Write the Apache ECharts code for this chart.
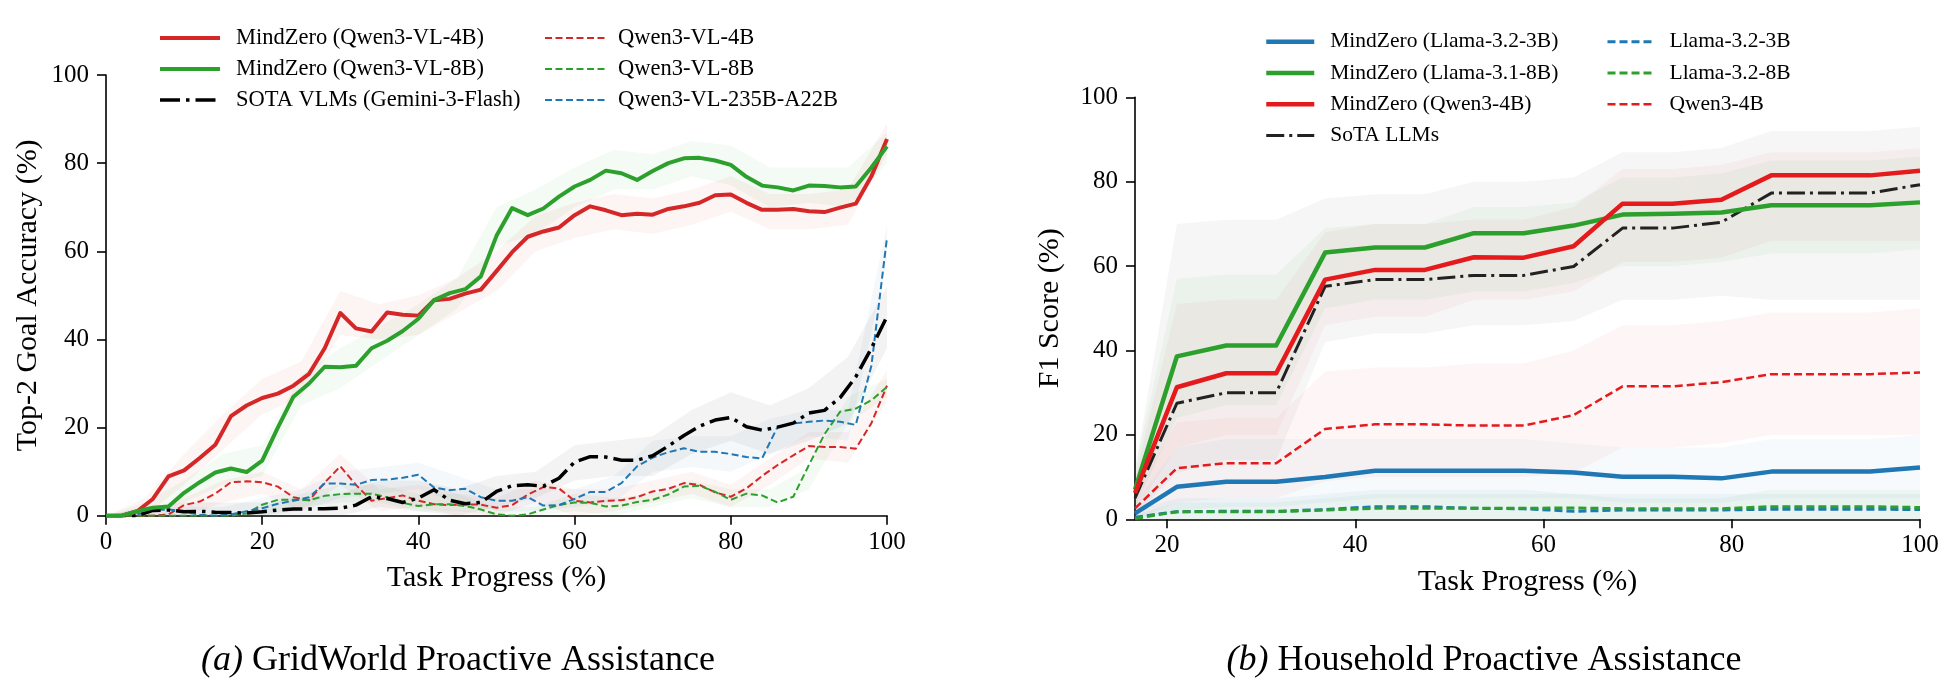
<!DOCTYPE html>
<html>
<head>
<meta charset="utf-8">
<script src="https://cdn.jsdelivr.net/npm/echarts@6/dist/echarts.min.js"></script>
<style>html,body{margin:0;padding:0;background:#fff}#c{width:1949px;height:695px}</style>
</head>
<body>
<div id="c"></div>
<script>
// ---------- (a) GridWorld ----------
const gwX = [0,2,4,6,8,10,12,14,16,18,20,22,24,26,28,30,32,34,36,38,40,42,44,46,48,50,52,54,56,58,60,62,64,66,68,70,72,74,76,78,80,82,84,86,88,90,92,94,96,98,100];
const gwMZ4B = [0,0,1.0,3.8,8.9,10.3,13.1,16.1,22.6,25.0,26.7,27.7,29.5,32.2,38.0,46.0,42.5,41.8,46.1,45.6,45.4,48.9,49.2,50.4,51.3,55.5,59.8,63.3,64.5,65.4,68.2,70.2,69.3,68.2,68.5,68.3,69.6,70.2,71.0,72.7,72.9,71.0,69.4,69.4,69.6,69.1,68.9,69.9,70.8,77.0,85.5];
const gwMZ8B = [0,0,1.0,1.8,2.1,5.2,7.6,9.8,10.7,9.9,12.5,20.0,27.0,30.0,33.8,33.7,34.0,38.0,39.7,41.9,44.7,48.9,50.5,51.4,54.3,63.5,69.8,68.2,69.7,72.4,74.7,76.2,78.3,77.7,76.2,78.2,80.0,81.1,81.2,80.6,79.6,76.9,74.9,74.5,73.8,74.9,74.8,74.5,74.7,79.0,83.8];
const gwSOTA = [0,0,0,1.2,1.3,0.9,1.0,0.8,0.7,0.6,0.9,1.3,1.5,1.5,1.6,1.7,2.4,4.3,3.9,3.0,4.0,5.9,3.5,2.7,3.0,5.5,6.8,7.0,6.7,8.5,12.2,13.4,13.3,12.6,12.6,13.6,15.8,18.2,20.3,21.7,22.3,20.2,19.4,20.1,21.0,23.3,23.9,26.8,31.5,38.0,45.2];
const gwQ4B = [0,0,0,0,0.3,2.4,3.2,5.0,7.6,7.8,7.6,6.6,4.2,3.5,7.5,11.2,7.0,3.4,4.0,4.6,3.4,2.6,2.4,2.6,2.5,1.8,2.4,4.8,6.5,6.2,3.4,3.0,3.4,3.5,4.2,5.5,6.1,7.4,7.0,5.3,4.3,6.2,9.0,11.5,13.7,15.8,15.6,15.6,15.2,21.0,29.5];
const gwQ8B = [0,0,0,0,0,0,0,0,0,0.5,2.5,3.6,3.6,3.5,4.5,4.9,5.0,5.0,4.2,2.9,2.2,2.6,2.6,2.2,1.4,0.3,0,0.3,1.4,2.4,3.0,2.9,2.1,2.3,3.1,3.6,4.8,6.6,6.8,5.4,3.6,5.0,4.6,3.0,4.3,11.5,18.5,23.6,24.3,26.2,29.2];
const gwQ235B = [0,0,0.3,1.3,1.4,1.0,0.2,0,0.3,1.0,1.7,2.7,3.4,4.2,7.3,7.3,7.0,8.1,8.2,8.6,9.3,6.4,5.8,6.1,4.2,3.4,3.4,4.2,2.3,2.4,3.8,5.4,5.4,7.4,11.2,13.2,14.4,15.3,14.5,14.5,14.0,13.3,13.0,20.2,20.9,21.3,21.6,21.3,20.6,34.0,63.1];
// shaded spread (read coarsely)
const gwBandX = [0,5,10,15,20,25,30,35,40,45,50,55,60,65,70,75,80,85,90,95,100];
const gwMZ4BUp = [0,4,14,23,31,35,51,48,50,54,60,68,71,73,72,74,77,73,73,74,89];
const gwMZ4BLo = [0,0,7,15,23,27,41,40,41,46,51,60,63,65,64,66,69,65,65,66,82];
const gwMZ8BUp = [0,3,8,14,16,32,38,43,48,54,70,74,79,83,82,85,84,79,79,79,87];
const gwMZ8BLo = [0,0,3,7,9,25,29,35,41,47,61,64,70,74,74,77,75,70,71,70,80];
const gwSOTAUp = [0,2,3,3,3,4,5,8,8,6,9,10,16,17,18,24,28,25,29,36,52];
const gwSOTALo = [0,0,0,0,0,0,0,2,1,0,2,4,8,9,9,14,17,14,17,21,38];
const gwQ235BUp = [0,2,2,2,4,6,10,11,12,9,6,6,6,9,17,18,18,22,24,24,66];
const gwQ235BLo = [0,0,0,0,0,1,4,5,6,3,1,1,2,3,10,11,10,14,18,17,58];
const gwQ4BUp = [0,1,4,8,10,6,14,6,7,5,4,8,6,6,8,10,7,13,19,19,33];
const gwQ4BLo = [0,0,0,3,5,1,7,1,2,0,0,3,0,1,3,5,2,7,13,12,26];
const gwQ8BUp = [0,0,0,0,2,5,7,7,5,5,2,2,5,4,5,8,6,6,11,27,31];
const gwQ8BLo = [0,0,0,0,0,2,3,3,1,1,0,0,1,0,2,4,2,2,6,21,27];

// ---------- (b) Household ----------
const hhX = [16.6,21.05,26.3,31.6,36.8,42.1,47.4,52.6,57.9,63.2,68.4,73.7,78.9,84.2,89.5,94.7,100];
const hhMZL3B = [1.4,7.7,8.9,8.9,10.0,11.5,11.5,11.5,11.5,11.1,10.1,10.1,9.7,11.3,11.3,11.3,12.3];
const hhMZL8B = [7.0,38.6,41.2,41.2,63.2,64.4,64.4,67.8,67.8,69.6,72.2,72.4,72.7,74.4,74.4,74.4,75.1];
const hhMZQ4B = [6.2,31.3,34.6,34.6,56.8,59.1,59.1,62.1,62.0,64.7,74.8,74.8,75.7,81.5,81.5,81.5,82.6];
const hhSOTA = [5.0,27.5,30.0,30.0,55.2,56.8,56.8,57.8,57.8,59.9,69.0,69.0,70.4,77.3,77.3,77.3,79.3];
const hhL3B = [0.5,1.8,1.9,1.9,2.3,3.0,3.0,2.6,2.5,1.9,2.2,2.2,2.2,2.4,2.4,2.4,2.3];
const hhL8B = [0.2,1.8,1.8,1.8,2.2,2.6,2.6,2.6,2.6,2.7,2.5,2.5,2.5,3.0,3.0,3.0,2.8];
const hhQ4B = [2.6,12.1,13.3,13.3,21.4,22.5,22.5,22.2,22.2,24.7,31.5,31.5,32.5,34.4,34.4,34.4,34.8];
const hhSOTALo = [1,11,14,14,42,44,44,46,46,47,52,52,53,52,52,52,52];
const hhSOTAUp = [12,70,71,71,76,77,77,80,80,81,87,87,88,92,92,92,93];
const hhMZL8BLo = [3,24,27,27,50,52,52,54,54,56,60,60,61,63,63,63,64];
const hhMZL8BUp = [12,57,58,58,69,70,70,74,74,75,81,81,82,85,85,85,86];
const hhMZQ4BLo = [2,17,20,20,46,48,48,52,52,54,61,61,62,66,66,66,66];
const hhMZQ4BUp = [10,51,52,52,68,70,70,71,71,74,83,83,84,87,87,87,88];
const hhQ4BLo = [0,4,5,5,9,10,10,10,10,11,17,17,18,20,20,20,20];
const hhQ4BUp = [6,23,24,24,35,36,36,37,37,40,46,46,47,49,49,49,50];
const hhMZL3BLo = [0,2,3,3,4,5,5,5,5,5,4,4,4,5,5,5,5];
const hhMZL3BUp = [4,17,19,19,19,19,19,19,19,18,17,17,17,19,19,19,20];
const hhL3BLo = [0,0,0,0,0,0,0,0,0,0,0,0,0,0,0,0,0];
const hhL3BUp = [2,5,5,5,6,7,7,7,7,6,6,6,6,6,6,6,6];
const hhL8BLo = [0,0,0,0,0,0,0,0,0,0,0,0,0,0,0,0,0];
const hhL8BUp = [1,4,4,4,5,6,6,6,6,6,5,5,5,7,7,7,7];

const yTicks = [0,20,40,60,80,100];
const hhXTicks = [20,40,60,80,100];

const FONT = '"Liberation Serif", "DejaVu Serif", serif';
const pairs = (xs, ys) => xs.map((x, i) => [x, ys[i]]);

function line(name, xs, ys, color, width, type, gi, z) {
  return {
    type: 'line', name, xAxisIndex: gi, yAxisIndex: gi,
    data: pairs(xs, ys), symbol: 'none', showSymbol: false, smooth: false,
    lineStyle: { color, width, type, cap: 'butt', join: 'round' },
    itemStyle: { color }, z: z || 3, silent: true
  };
}
// filled spread between lo and hi, placed through the axes with api.coord
function band(key, xs, lo, hi, color, opacity, gi) {
  return {
    type: 'custom', name: '_band_' + key, xAxisIndex: gi, yAxisIndex: gi,
    data: [[xs[0], lo[0]]], clip: true, silent: true, z: 1,
    renderItem: function (params, api) {
      const pts = [];
      for (let i = 0; i < xs.length; i++) pts.push(api.coord([xs[i], hi[i]]));
      for (let i = xs.length - 1; i >= 0; i--) pts.push(api.coord([xs[i], lo[i]]));
      return { type: 'polygon', shape: { points: pts }, style: { fill: color, opacity: opacity } };
    }
  };
}

const C_RED = '#d62728', C_GREEN = '#2ca02c', C_BLUE = '#1f77b4';
const C_RED2 = '#e41a1c';
const DASH_L = [7, 3.5];
const DASHDOT_L = [20, 6, 3.5, 6];
const DASH_R = [8, 4];
const DASHDOT_R = [18, 5, 3, 5];

const series = [
  band('gw1', gwBandX, gwMZ4BLo, gwMZ4BUp, C_RED, 0.05, 0),
  band('gw2', gwBandX, gwMZ8BLo, gwMZ8BUp, C_GREEN, 0.05, 0),
  band('gw3', gwBandX, gwSOTALo, gwSOTAUp, '#555', 0.07, 0),
  band('gw4', gwBandX, gwQ4BLo, gwQ4BUp, C_RED, 0.05, 0),
  band('gw5', gwBandX, gwQ8BLo, gwQ8BUp, C_GREEN, 0.05, 0),
  band('gw6', gwBandX, gwQ235BLo, gwQ235BUp, C_BLUE, 0.05, 0),
  band('hh1', hhX, hhSOTALo, hhSOTAUp, '#666', 0.06, 1),
  band('hh2', hhX, hhMZL8BLo, hhMZL8BUp, C_GREEN, 0.05, 1),
  band('hh3', hhX, hhMZQ4BLo, hhMZQ4BUp, C_RED2, 0.04, 1),
  band('hh4', hhX, hhQ4BLo, hhQ4BUp, C_RED2, 0.04, 1),
  band('hh5', hhX, hhMZL3BLo, hhMZL3BUp, C_BLUE, 0.04, 1),
  band('hh6', hhX, hhL3BLo, hhL3BUp, C_BLUE, 0.05, 1),
  band('hh7', hhX, hhL8BLo, hhL8BUp, C_GREEN, 0.05, 1),

  line('Qwen3-VL-4B', gwX, gwQ4B, C_RED, 2, DASH_L, 0, 3),
  line('Qwen3-VL-8B', gwX, gwQ8B, C_GREEN, 2, DASH_L, 0, 3),
  line('Qwen3-VL-235B-A22B', gwX, gwQ235B, C_BLUE, 2, DASH_L, 0, 3),
  line('SOTA VLMs (Gemini-3-Flash)', gwX, gwSOTA, '#000', 3.5, DASHDOT_L, 0, 4),
  line('MindZero (Qwen3-VL-4B)', gwX, gwMZ4B, C_RED, 4, 'solid', 0, 5),
  line('MindZero (Qwen3-VL-8B)', gwX, gwMZ8B, C_GREEN, 4, 'solid', 0, 5),

  line('Llama-3.2-3B', hhX, hhL3B, C_BLUE, 3, DASH_R, 1, 3),
  line('Llama-3.2-8B', hhX, hhL8B, C_GREEN, 3, DASH_R, 1, 3),
  line('Qwen3-4B', hhX, hhQ4B, C_RED2, 2.5, DASH_R, 1, 3),
  line('MindZero (Llama-3.2-3B)', hhX, hhMZL3B, C_BLUE, 4.5, 'solid', 1, 5),
  line('SoTA LLMs', hhX, hhSOTA, '#222', 3, DASHDOT_R, 1, 4),
  line('MindZero (Llama-3.1-8B)', hhX, hhMZL8B, C_GREEN, 4.5, 'solid', 1, 5),
  line('MindZero (Qwen3-4B)', hhX, hhMZQ4B, C_RED2, 4.5, 'solid', 1, 5)
];

const axisLine = { show: true, onZero: false, lineStyle: { color: '#000', width: 1.6 } };
const axisTick = { show: true, inside: false, length: 9, lineStyle: { color: '#000', width: 1.6 } };
const lbl = { color: '#000', fontFamily: FONT, fontSize: 25 };
const nameStyle = { color: '#000', fontFamily: FONT, fontSize: 30 };

function legend(left, top, names, itemWidth, fontSize, lh, padLeft) {
  return {
    orient: 'vertical', left, top, padding: 0, itemGap: 0,
    itemWidth, itemHeight: 12, selectedMode: false, data: names,
    itemStyle: { color: 'rgba(0,0,0,0)', borderColor: 'rgba(0,0,0,0)', borderWidth: 0, opacity: 0 },
    lineStyle: { width: 'inherit', type: 'inherit' },
    textStyle: { color: '#000', fontFamily: FONT, fontSize, lineHeight: lh, padding: [0, 0, 0, padLeft] }
  };
}

const option = {
  animation: false,
  backgroundColor: '#fff',
  grid: [
    { left: 106, top: 75, width: 781, height: 440.7, containLabel: false },
    { left: 1135, top: 97.3, width: 785, height: 422, containLabel: false }
  ],
  xAxis: [
    { gridIndex: 0, type: 'value', min: 0, max: 100, interval: 20,
      axisLine, axisTick, splitLine: { show: false },
      axisLabel: Object.assign({ margin: 14, showMinLabel: true, showMaxLabel: true }, lbl),
      name: 'Task Progress (%)', nameLocation: 'middle', nameGap: 47, nameTextStyle: nameStyle },
    { gridIndex: 1, type: 'value', min: 16.6, max: 100,
      axisLine, axisTick: Object.assign({ customValues: hhXTicks }, axisTick), splitLine: { show: false },
      axisLabel: Object.assign({ margin: 14, customValues: hhXTicks }, lbl),
      name: 'Task Progress (%)', nameLocation: 'middle', nameGap: 48, nameTextStyle: nameStyle }
  ],
  yAxis: [
    { gridIndex: 0, type: 'value', min: 0, max: 100, interval: 20,
      axisLine, axisTick, splitLine: { show: false },
      axisLabel: Object.assign({ margin: 17, customValues: yTicks }, lbl),
      name: 'Top-2 Goal Accuracy (%)', nameLocation: 'middle', nameGap: 63, nameTextStyle: nameStyle },
    { gridIndex: 1, type: 'value', min: 0, max: 100, interval: 20,
      axisLine, axisTick, splitLine: { show: false },
      axisLabel: Object.assign({ margin: 17, customValues: yTicks }, lbl),
      name: 'F1 Score (%)', nameLocation: 'middle', nameGap: 70, nameTextStyle: nameStyle }
  ],
  legend: [
    legend(158, 22.5, ['MindZero (Qwen3-VL-4B)', 'MindZero (Qwen3-VL-8B)', 'SOTA VLMs (Gemini-3-Flash)'], 60, 22.5, 31, 11),
    legend(544, 22.5, ['Qwen3-VL-4B', 'Qwen3-VL-8B', 'Qwen3-VL-235B-A22B'], 60, 22.5, 31, 8),
    legend(1264, 26, ['MindZero (Llama-3.2-3B)', 'MindZero (Llama-3.1-8B)', 'MindZero (Qwen3-4B)', 'SoTA LLMs'], 48, 21.5, 31.3, 11),
    legend(1606, 26, ['Llama-3.2-3B', 'Llama-3.2-8B', 'Qwen3-4B'], 48, 21.5, 31.3, 9)
  ],
  graphic: [
    { type: 'text', x: 458, y: 661, silent: true,
      style: { text: '{i|(a)} GridWorld Proactive Assistance', fill: '#000', fontFamily: FONT, fontSize: 36,
        align: 'center', verticalAlign: 'middle',
        rich: { i: { fontStyle: 'italic', fontFamily: FONT, fontSize: 36, fill: '#000' } } } },
    { type: 'text', x: 1484, y: 661, silent: true,
      style: { text: '{i|(b)} Household Proactive Assistance', fill: '#000', fontFamily: FONT, fontSize: 36,
        align: 'center', verticalAlign: 'middle',
        rich: { i: { fontStyle: 'italic', fontFamily: FONT, fontSize: 36, fill: '#000' } } } }
  ],
  series
};

const chart = echarts.init(document.getElementById('c'), null, { renderer: 'canvas' });
chart.setOption(option);
</script>
</body>
</html>
